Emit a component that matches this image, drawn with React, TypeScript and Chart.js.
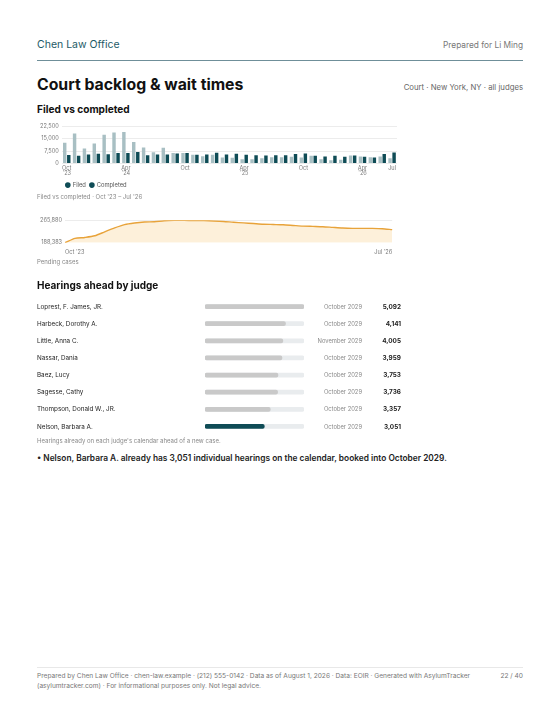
import React, { useEffect, useRef } from "react";
import { Chart, registerables } from "chart.js";

Chart.register(...registerables);

const FONT = "Inter, 'Noto Sans', 'DejaVu Sans', sans-serif";

// ---------- data ----------
const months = [
  "Oct '23", "Nov '23", "Dec '23", "Jan '24", "Feb '24", "Mar '24", "Apr '24", "May '24", "Jun '24", "Jul '24", "Aug '24", "Sep '24",
  "Oct '24", "Nov '24", "Dec '24", "Jan '25", "Feb '25", "Mar '25", "Apr '25", "May '25", "Jun '25", "Jul '25", "Aug '25", "Sep '25",
  "Oct '25", "Nov '25", "Dec '25", "Jan '26", "Feb '26", "Mar '26", "Apr '26", "May '26", "Jun '26", "Jul '26",
];
const filed = [
  12600, 18200, 9100, 12100, 17400, 18700, 19100, 13000, 9700, 6800, 9500, 6400,
  6300, 5300, 4400, 5300, 3600, 3400, 2500, 2600, 3200, 3800, 3800, 4000,
  3600, 4600, 2500, 1900, 2300, 4800, 4200, 3800, 4200, 3200,
];
const completed = [
  5100, 4600, 5400, 5900, 5600, 6400, 6400, 6900, 5000, 5500, 5400, 6000,
  6300, 5300, 5500, 6500, 5500, 5900, 5300, 5000, 4800, 5000, 5000, 5700,
  6100, 4600, 4200, 4600, 4000, 4800, 4000, 3600, 5700, 6700,
];
const barTickIndex = [0, 6, 12, 18, 24, 30, 33];
const barTickText = [["Oct", "'23"], ["Apr", "'24"], ["Oct"], ["Apr", "'25"], ["Oct"], ["Apr", "'26"], ["Jul"]];
const barYTicks = [0, 7500, 15000, 22500];

const pending = [
  188383, 203200, 206600, 212300, 226000, 239700, 251100, 256800, 260200, 261300, 264700, 265880,
  265700, 265500, 265000, 263800, 262000, 259200, 257000, 254800, 252600, 251500, 250400, 248200,
  246000, 244900, 243800, 241500, 239300, 238200, 238200, 238000, 237000, 233700,
];
const pendingTickIndex = [0, 33];

const judges = [
  "Loprest, F. James, JR.", "Harbeck, Dorothy A.", "Little, Anna C.", "Nassar, Dania",
  "Baez, Lucy", "Sagesse, Cathy", "Thompson, Donald W., JR.", "Nelson, Barbara A.",
];
const hearings = [5092, 4141, 4005, 3959, 3753, 3736, 3357, 3051];
const bookedInto = [
  "October 2029", "October 2029", "November 2029", "October 2029",
  "October 2029", "October 2029", "October 2029", "October 2029",
];
const highlightJudge = "Nelson, Barbara A.";

// ---------- styles ----------
const TEAL = "#0f4c56";
const FILED = "#a8bfc3";
const GRID = "#ececec";
const TICK = "#7a7a7a";
const TICK_FONT = { family: FONT, size: 5.6 };

type TProps = {
  x: number; y: number; size: number; weight?: number; color?: string;
  align?: "left" | "right"; children: React.ReactNode;
};
function T({ x, y, size, weight = 400, color = "#222", align = "left", children }: TProps) {
  const lh = Math.round(size * 1.3);
  const style: React.CSSProperties = {
    position: "absolute", top: y - lh / 2, lineHeight: lh + "px", fontSize: size,
    fontWeight: weight, color, whiteSpace: "nowrap", fontFamily: FONT,
  };
  if (align === "left") style.left = x; else style.right = 560 - x;
  return <div style={style}>{children}</div>;
}

function BarChart() {
  const ref = useRef<HTMLCanvasElement>(null);
  useEffect(() => {
    const chart = new Chart(ref.current!, {
      type: "bar",
      data: {
        labels: months,
        datasets: [
          { label: "Filed", data: filed, backgroundColor: FILED, categoryPercentage: 0.82, barPercentage: 0.85 },
          { label: "Completed", data: completed, backgroundColor: TEAL, categoryPercentage: 0.82, barPercentage: 0.85 },
        ],
      },
      options: {
        responsive: false, animation: false, maintainAspectRatio: false,
        layout: { padding: { left: 0, right: 1, top: 0, bottom: 0 } },
        scales: {
          x: {
            grid: { display: false, drawTicks: false }, border: { display: false },
            ticks: {
              autoSkip: false, maxRotation: 0, minRotation: 0, padding: 1.5, color: TICK,
              font: { ...TICK_FONT, lineHeight: 1.05 },
              callback: (_v: any, i: number) => {
                const k = barTickIndex.indexOf(i);
                return k >= 0 ? barTickText[k] : "";
              },
            },
          },
          y: {
            min: 0, max: 22500,
            afterBuildTicks: (axis: any) => { axis.ticks = barYTicks.map((v) => ({ value: v })); },
            grid: { color: GRID, drawTicks: false }, border: { display: false },
            ticks: {
              autoSkip: false, padding: 3, color: TICK, font: TICK_FONT,
              callback: (v: any) => Number(v).toLocaleString("en-US"),
            },
          },
        },
        plugins: {
          tooltip: { enabled: false },
          legend: {
            position: "bottom", align: "start", fullSize: false,
            labels: {
              usePointStyle: true, pointStyle: "circle", boxWidth: 4, boxHeight: 4, padding: 4,
              color: "#555", font: { family: FONT, size: 5.8 },
              generateLabels: (c: any) => {
                const items = Chart.defaults.plugins.legend.labels.generateLabels(c);
                items.forEach((it: any) => { it.fillStyle = TEAL; it.strokeStyle = TEAL; it.lineWidth = 0; });
                return items;
              },
            },
          },
        },
      },
    } as any);
    return () => chart.destroy();
  }, []);
  return <canvas ref={ref} width={361} height={78} style={{ position: "absolute", left: 37, top: 120, width: 361, height: 78 }} />;
}

function LineChart() {
  const ref = useRef<HTMLCanvasElement>(null);
  useEffect(() => {
    const min = Math.min(...pending);
    const max = Math.max(...pending);
    const chart = new Chart(ref.current!, {
      type: "line",
      data: {
        labels: months,
        datasets: [{
          label: "Pending cases", data: pending, borderColor: "#e8a33a", borderWidth: 1.4,
          backgroundColor: "#fdf0da", fill: "start", pointRadius: 0, tension: 0.25,
        }],
      },
      options: {
        responsive: false, animation: false, maintainAspectRatio: false,
        layout: { padding: { left: 0, right: 1, top: 0, bottom: 0 } },
        scales: {
          x: {
            grid: { display: false, drawTicks: false }, border: { display: false },
            afterBuildTicks: (axis: any) => { axis.ticks = pendingTickIndex.map((v) => ({ value: v })); },
            ticks: {
              autoSkip: false, maxRotation: 0, align: "inner", padding: 5.8, color: TICK,
              font: TICK_FONT,
              callback: (v: any) => months[Number(v)],
            },
          },
          y: {
            min, max,
            afterBuildTicks: (axis: any) => { axis.ticks = [{ value: min }, { value: max }]; },
            grid: { color: (ctx: any) => (ctx.tick && ctx.tick.value === max ? GRID : "rgba(0,0,0,0)"), drawTicks: false },
            border: { display: false },
            ticks: {
              autoSkip: false, padding: 3, color: TICK, font: TICK_FONT,
              callback: (v: any) => Number(v).toLocaleString("en-US"),
            },
          },
        },
        plugins: { legend: { display: false }, tooltip: { enabled: false } },
      },
    } as any);
    return () => chart.destroy();
  }, []);
  return <canvas ref={ref} width={361} height={47} style={{ position: "absolute", left: 37, top: 214, width: 361, height: 47 }} />;
}

function JudgeBars() {
  const ref = useRef<HTMLCanvasElement>(null);
  useEffect(() => {
    const max = Math.max(...hearings);
    const chart = new Chart(ref.current!, {
      type: "bar",
      data: {
        labels: judges,
        datasets: [
          {
            label: "Hearings", data: hearings, grouped: false, order: 1,
            backgroundColor: judges.map((j) => (j === highlightJudge ? TEAL : "#c9c9c9")),
            barThickness: 4, borderRadius: 2, borderSkipped: false,
          },
          {
            label: "Track", data: judges.map(() => max), grouped: false, order: 2,
            backgroundColor: "#e9ecee", barThickness: 4, borderRadius: 2, borderSkipped: false,
          },
        ],
      },
      options: {
        indexAxis: "y", responsive: false, animation: false, maintainAspectRatio: false,
        layout: { padding: 0 },
        scales: {
          x: { display: false, min: 0, max },
          y: { display: false },
        },
        plugins: { legend: { display: false }, tooltip: { enabled: false } },
      },
    } as any);
    return () => chart.destroy();
  }, []);
  return <canvas ref={ref} width={99} height={137} style={{ position: "absolute", left: 205, top: 298, width: 99, height: 137 }} />;
}

export default function App() {
  const rowY = (i: number) => 306.8 + i * 17.1;
  const hi = judges.indexOf(highlightJudge);
  return (
    <div style={{ position: "absolute", left: 0, top: 0, width: 560, height: 725, background: "#fff", fontFamily: FONT, overflow: "hidden" }}>
      <T x={37} y={45} size={10.5} color="#1d5a66">Chen Law Office</T>
      <T x={523} y={45} size={8.3} color="#777" align="right">Prepared for Li Ming</T>
      <div style={{ position: "absolute", left: 37, top: 60, width: 486, height: 1, background: "#6f8f99" }} />

      <T x={37} y={84} size={15.8} weight={700} color="#111">Court backlog &amp; wait times</T>
      <T x={523} y={87} size={7.75} color="#666" align="right">Court · New York, NY · all judges</T>

      <T x={37} y={109} size={10.1} weight={700} color="#111">Filed vs completed</T>
      <BarChart />
      <T x={37} y={196.5} size={6} color="#888">Filed vs completed · Oct '23 – Jul '26</T>

      <LineChart />
      <T x={37} y={262} size={6} color="#888">Pending cases</T>

      <T x={37} y={285} size={10} weight={700} color="#111">Hearings ahead by judge</T>
      {judges.map((j, i) => (
        <React.Fragment key={j}>
          <T x={37} y={rowY(i)} size={6.3} color="#222">{j}</T>
          <T x={362} y={rowY(i)} size={5.8} color="#888" align="right">{bookedInto[i]}</T>
          <T x={401} y={rowY(i)} size={6.4} weight={700} color="#222" align="right">{hearings[i].toLocaleString("en-US")}</T>
        </React.Fragment>
      ))}
      <JudgeBars />
      <T x={37} y={441} size={6} color="#888">Hearings already on each judge's calendar ahead of a new case.</T>
      <T x={37} y={458} size={8.35} weight={600} color="#222">
        • {highlightJudge} already has {hearings[hi].toLocaleString("en-US")} individual hearings on the calendar, booked into {bookedInto[hi]}.
      </T>

      <div style={{ position: "absolute", left: 37, top: 667, width: 486, height: 1, background: "#e8e8e8" }} />
      <T x={37} y={676} size={6.6} color="#777">Prepared by Chen Law Office · chen-law.example · (212) 555-0142 · Data as of August 1, 2026 · Data: EOIR · Generated with AsylumTracker</T>
      <T x={37} y={686} size={6.6} color="#777">(asylumtracker.com) · For informational purposes only. Not legal advice.</T>
      <T x={523} y={676} size={6.6} color="#777" align="right">22 / 40</T>
    </div>
  );
}
